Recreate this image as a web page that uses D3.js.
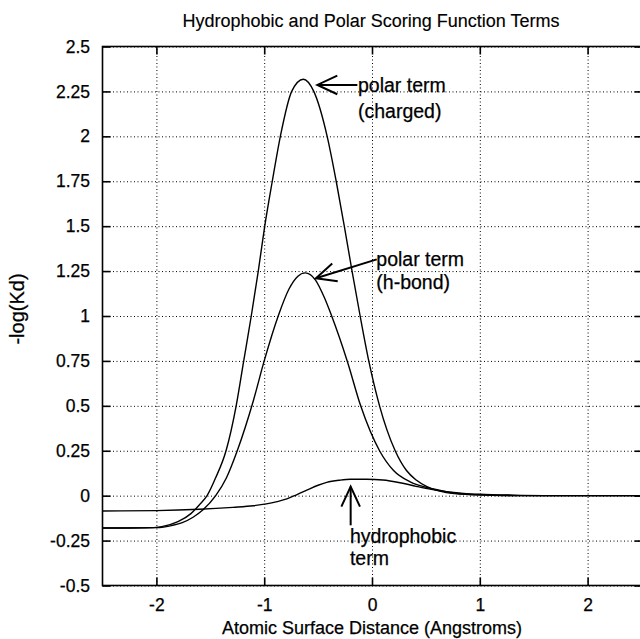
<!DOCTYPE html>
<html>
<head>
<meta charset="utf-8">
<script src="https://cdn.jsdelivr.net/npm/d3@7"></script>
<style>
  body { margin: 0; background: #fff; }
  text { font-family: "Liberation Sans", Arial, Helvetica, sans-serif; fill: #000; stroke: #000; stroke-width: 0.25px; }
</style>
</head>
<body>
<div id="chart"></div>
<script>

// Tick values
var xTicks = [-2, -1, 0, 1, 2];
var yTicks = [-0.5, -0.25, 0, 0.25, 0.5, 0.75, 1, 1.25, 1.5, 1.75, 2, 2.25, 2.5];

// Polar term (charged)
var chargedX = [-2.5, -2.1, -1.95, -1.8, -1.68, -1.6, -1.53, -1.45, -1.354, -1.26, -1.19, -1.12, -1.055, -0.995,
                -0.925, -0.85, -0.745, -0.637, -0.54, -0.416, -0.332, -0.257, -0.185, -0.11, -0.03, 0.07, 0.215,
                0.32, 0.41, 0.51, 0.69, 0.9, 1.2, 1.6, 2.5];
var chargedY = [-0.18, -0.179, -0.172, -0.145, -0.1, -0.05, 0.0, 0.1, 0.25, 0.5, 0.75, 1.0, 1.25, 1.5,
                1.75, 2.0, 2.25, 2.318, 2.25, 2.0, 1.75, 1.5, 1.25, 1.0, 0.75, 0.5, 0.25,
                0.14, 0.087, 0.05, 0.017, 0.006, 0.001, 0.0, 0.0];

// Polar term (h-bond)
var hbondX = [-2.5, -2.0, -1.85, -1.76, -1.66, -1.57, -1.45, -1.35, -1.25, -1.1, -1.0, -0.87, -0.77, -0.69, -0.62,
              -0.524, -0.44, -0.374, -0.23, -0.105, 0.07, 0.2, 0.35, 0.57, 0.8, 1.1, 1.5, 2.5];
var hbondY = [-0.18, -0.178, -0.165, -0.15, -0.12, -0.08, 0.0, 0.1, 0.25, 0.53, 0.75, 1.0, 1.15, 1.22, 1.24,
              1.2, 1.1, 1.0, 0.75, 0.5, 0.25, 0.14, 0.078, 0.037, 0.012, 0.003, 0.0, 0.0];

// Hydrophobic term
var hydroX = [-2.5, -2.0, -1.6, -1.29, -1.1, -0.98, -0.88, -0.79, -0.7, -0.6, -0.5, -0.42, -0.3, -0.2, -0.05,
              0.1, 0.26, 0.41, 0.55, 0.69, 0.85, 1.0, 1.3, 1.7, 2.5];
var hydroY = [-0.085, -0.083, -0.076, -0.065, -0.056, -0.046, -0.033, -0.018, 0.005, 0.032, 0.058, 0.074, 0.086, 0.091, 0.091,
              0.087, 0.072, 0.052, 0.035, 0.022, 0.013, 0.008, 0.003, 0.0005, 0.0];

var width = 640,
    height = 639;

var plotLeft = 102.5, plotRight = 641.5, plotTop = 46.5, plotBottom = 585.5;

var svg = d3.select("#chart").append("svg")
    .attr("width", width)
    .attr("height", height);

var x = d3.scaleLinear().domain([-2.5, 2.5]).range([plotLeft, plotRight]);
var y = d3.scaleLinear().domain([-0.5, 2.5]).range([plotBottom, plotTop]);

var fmt = function(d) { return String(d); };

// Dotted grid
var grid = svg.append("g").attr("class", "grid");

grid.append("g")
    .attr("transform", "translate(0," + plotBottom + ")")
    .call(d3.axisBottom(x).tickValues(xTicks).tickSize(-(plotBottom - plotTop)).tickFormat(""));

grid.append("g")
    .attr("transform", "translate(" + plotLeft + ",0)")
    .call(d3.axisLeft(y).tickValues(yTicks).tickSize(-(plotRight - plotLeft)).tickFormat(""));

grid.selectAll(".domain").remove();
grid.selectAll("line")
    .attr("stroke", "#000")
    .attr("stroke-width", 1)
    .attr("stroke-dasharray", "1,2.5");

// Axes with inward ticks
var bottomAxis = svg.append("g")
    .attr("transform", "translate(0," + plotBottom + ")")
    .call(d3.axisBottom(x).tickValues(xTicks).tickSize(-8).tickPadding(13.5).tickFormat(fmt));

var leftAxis = svg.append("g")
    .attr("transform", "translate(" + plotLeft + ",0)")
    .call(d3.axisLeft(y).tickValues(yTicks).tickSize(-8).tickPadding(12.5).tickFormat(fmt));

var topAxis = svg.append("g")
    .attr("transform", "translate(0," + plotTop + ")")
    .call(d3.axisTop(x).tickValues(xTicks).tickSize(-8).tickFormat(""));

var rightAxis = svg.append("g")
    .attr("transform", "translate(" + plotRight + ",0)")
    .call(d3.axisRight(y).tickValues(yTicks).tickSize(-7).tickFormat(""));

svg.selectAll(".domain").remove();
[bottomAxis, leftAxis, topAxis, rightAxis].forEach(function(a) {
  a.selectAll("line").attr("stroke", "#000").attr("stroke-width", 1.6);
  a.selectAll("text")
    .style("font-family", "'Liberation Sans', Arial, sans-serif")
    .style("font-size", "17.5px")
    .attr("fill", "#000");
});

// Frame
svg.append("rect")
    .attr("x", plotLeft)
    .attr("y", plotTop)
    .attr("width", plotRight - plotLeft)
    .attr("height", plotBottom - plotTop)
    .attr("fill", "none")
    .attr("stroke", "#000")
    .attr("stroke-width", 1.6);

// Curves
var line = d3.line()
    .x(function(d) { return x(d[0]); })
    .y(function(d) { return y(d[1]); })
    .curve(d3.curveMonotoneX);

var series = [
  d3.zip(hydroX, hydroY),
  d3.zip(hbondX, hbondY),
  d3.zip(chargedX, chargedY)
];

svg.append("g").selectAll("path")
    .data(series)
  .enter().append("path")
    .attr("d", line)
    .attr("fill", "none")
    .attr("stroke", "#000")
    .attr("stroke-width", 1.4);

// Annotations (positions in data units)
var annotations = [
  { tip: [-0.507, 2.286], tail: [-0.136, 2.286], label: ["polar term", "(charged)"], at: [-0.13, 2.245], lineGap: 0.144 },
  { tip: [-0.52, 1.21], tail: [0.044, 1.315], label: ["polar term", "(h-bond)"], at: [0.04, 1.28], lineGap: 0.131 },
  { tip: [-0.198, 0.05], tail: [-0.198, -0.165], label: ["hydrophobic", "term"], at: [-0.205, -0.262], lineGap: 0.123 }
];

var arrowLen = 22, arrowAngle = 25 * Math.PI / 180;

annotations.forEach(function(a) {
  var tx = x(a.tip[0]), ty = y(a.tip[1]);
  var sx = x(a.tail[0]), sy = y(a.tail[1]);
  var ang = Math.atan2(sy - ty, sx - tx);

  svg.append("line")
      .attr("x1", sx).attr("y1", sy)
      .attr("x2", tx).attr("y2", ty)
      .attr("stroke", "#000")
      .attr("stroke-width", 2);

  var head = [
    [tx + arrowLen * Math.cos(ang + arrowAngle), ty + arrowLen * Math.sin(ang + arrowAngle)],
    [tx, ty],
    [tx + arrowLen * Math.cos(ang - arrowAngle), ty + arrowLen * Math.sin(ang - arrowAngle)]
  ];
  svg.append("path")
      .attr("d", d3.line()(head))
      .attr("fill", "none")
      .attr("stroke", "#000")
      .attr("stroke-width", 2);

  a.label.forEach(function(t, i) {
    svg.append("text")
        .attr("x", x(a.at[0]))
        .attr("y", y(a.at[1] - i * a.lineGap))
        .style("font-size", "19.5px")
        .text(t);
  });
});

// Titles
svg.append("text")
    .attr("x", (plotLeft + plotRight) / 2 - 1)
    .attr("y", 27)
    .attr("text-anchor", "middle")
    .style("font-size", "18px")
    .style("stroke-width", "0.15px")
    .text("Hydrophobic and Polar Scoring Function Terms");

svg.append("text")
    .attr("x", (plotLeft + plotRight) / 2)
    .attr("y", 634)
    .attr("text-anchor", "middle")
    .style("font-size", "18px")
    .text("Atomic Surface Distance (Angstroms)");

svg.append("text")
    .attr("transform", "translate(24,309) rotate(-90)")
    .attr("text-anchor", "middle")
    .style("font-size", "20px")
    .text("-log(Kd)");

</script>
</body>
</html>
